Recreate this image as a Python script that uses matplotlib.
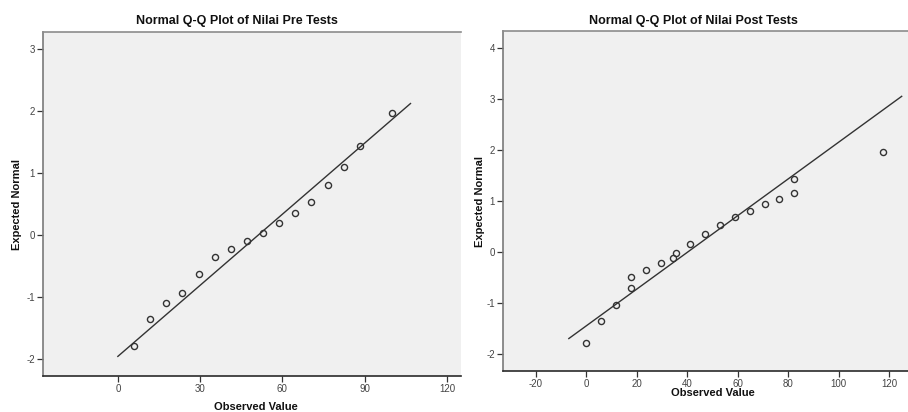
import matplotlib
matplotlib.use("Agg")
import matplotlib.pyplot as plt
import numpy as np
from matplotlib import font_manager

# ---- data ----
pre_observed = [5.88, 11.76, 17.65, 23.53, 29.41, 35.29, 41.18, 47.06, 52.94,
                58.82, 64.71, 70.59, 76.47, 82.35, 88.24, 100.0]
pre_expected = [-1.78, -1.36, -1.09, -0.935, -0.634, -0.35, -0.22, -0.09, 0.03,
                0.19, 0.355, 0.527, 0.80, 1.097, 1.44, 1.96]
pre_mean, pre_sd = 51.2, 26.2
pre_line_x = [0.0, 106.7]

post_observed = [0.0, 5.88, 11.76, 17.65, 17.65, 23.53, 29.41, 34.1, 35.29, 41.18,
                 47.06, 52.94, 58.82, 64.71, 70.59, 76.47, 82.35, 82.35, 117.65]
post_expected = [-1.78, -1.35, -1.03, -0.71, -0.48, -0.35, -0.22, -0.12, -0.02, 0.16,
                 0.35, 0.53, 0.68, 0.80, 0.94, 1.04, 1.15, 1.44, 1.96]
post_mean, post_sd = 40.1, 27.8
post_line_x = [-7.0, 124.9]

pre_xticks = [0, 30, 60, 90, 120]
pre_yticks = [-2, -1, 0, 1, 2, 3]
post_xticks = [-20, 0, 20, 40, 60, 80, 100, 120]
post_yticks = [-2, -1, 0, 1, 2, 3, 4]

titles = ["Normal Q-Q Plot of Nilai Pre Tests", "Normal Q-Q Plot of Nilai Post Tests"]

# ---- fonts ----
avail = {f.name for f in font_manager.fontManager.ttflist}
narrow = "Liberation Sans Narrow" if "Liberation Sans Narrow" in avail else "Liberation Sans"
plt.rcParams["font.family"] = ["Liberation Sans", "DejaVu Sans"]
plt.rcParams["axes.unicode_minus"] = False

W, H = 908, 412
fig = plt.figure(figsize=(W / 100, H / 100), dpi=100)
fig.patch.set_facecolor("white")


def px_axes(left, top, right, bottom):
    return fig.add_axes([left / W, (H - bottom) / H, (right - left) / W, (bottom - top) / H])


def style(ax, xlim, ylim, xticks, yticks):
    ax.set_facecolor("#f0f0f0")
    ax.set_xlim(*xlim)
    ax.set_ylim(*ylim)
    ax.set_xticks(xticks)
    ax.set_yticks(yticks)
    ax.spines["right"].set_visible(False)
    ax.spines["top"].set_color("#8c8c8c")
    ax.spines["top"].set_linewidth(1.2)
    ax.spines["left"].set_color("#7a7a7a")
    ax.spines["left"].set_linewidth(1.2)
    ax.spines["bottom"].set_color("#2a2a2a")
    ax.spines["bottom"].set_linewidth(1.2)
    ax.tick_params(axis="both", direction="out", length=4, width=0.9, color="#333333",
                   labelsize=7, labelcolor="#444444", pad=1.5)
    for lab in ax.get_xticklabels() + ax.get_yticklabels():
        lab.set_family([narrow, "DejaVu Sans"])


def draw(ax, obs, exp, mean, sd, line_x):
    lx = np.array(line_x)
    ax.plot(lx, (lx - mean) / sd, color="#333333", lw=1.0, zorder=2)
    ax.plot(obs, exp, linestyle="none", marker="o", markersize=4.4,
            markerfacecolor="none", markeredgecolor="#333333", markeredgewidth=1.0, zorder=3)


ax1 = px_axes(42.7, 32, 460.7, 376)
style(ax1, (-27.4, 125), (-2.27, 3.27), pre_xticks, pre_yticks)
draw(ax1, pre_observed, pre_expected, pre_mean, pre_sd, pre_line_x)

ax2 = px_axes(502.7, 31, 908, 371)
style(ax2, (-33.2, 127.4), (-2.33, 4.33), post_xticks, post_yticks)
draw(ax2, post_observed, post_expected, post_mean, post_sd, post_line_x)

# titles
fig.text(237 / W, 1 - 21 / H, titles[0], ha="center", va="center", fontsize=9,
         fontweight="bold", family=[narrow, "DejaVu Sans"], color="#111111")
fig.text(693.5 / W, 1 - 21 / H, titles[1], ha="center", va="center", fontsize=9,
         fontweight="bold", family=[narrow, "DejaVu Sans"], color="#111111")

# axis labels
fig.text(256 / W, 1 - 407 / H, "Observed Value", ha="center", va="center", fontsize=8,
         fontweight="bold", color="#111111")
fig.text(712.8 / W, 1 - 393 / H, "Observed Value", ha="center", va="center", fontsize=8,
         fontweight="bold", color="#111111")
fig.text(17 / W, 1 - 205 / H, "Expected Normal", ha="center", va="center", fontsize=8,
         fontweight="bold", rotation=90, color="#111111")
fig.text(480 / W, 1 - 201.7 / H, "Expected Normal", ha="center", va="center", fontsize=8,
         fontweight="bold", rotation=90, color="#111111")

fig.savefig("out.png", dpi=100, facecolor="white")
